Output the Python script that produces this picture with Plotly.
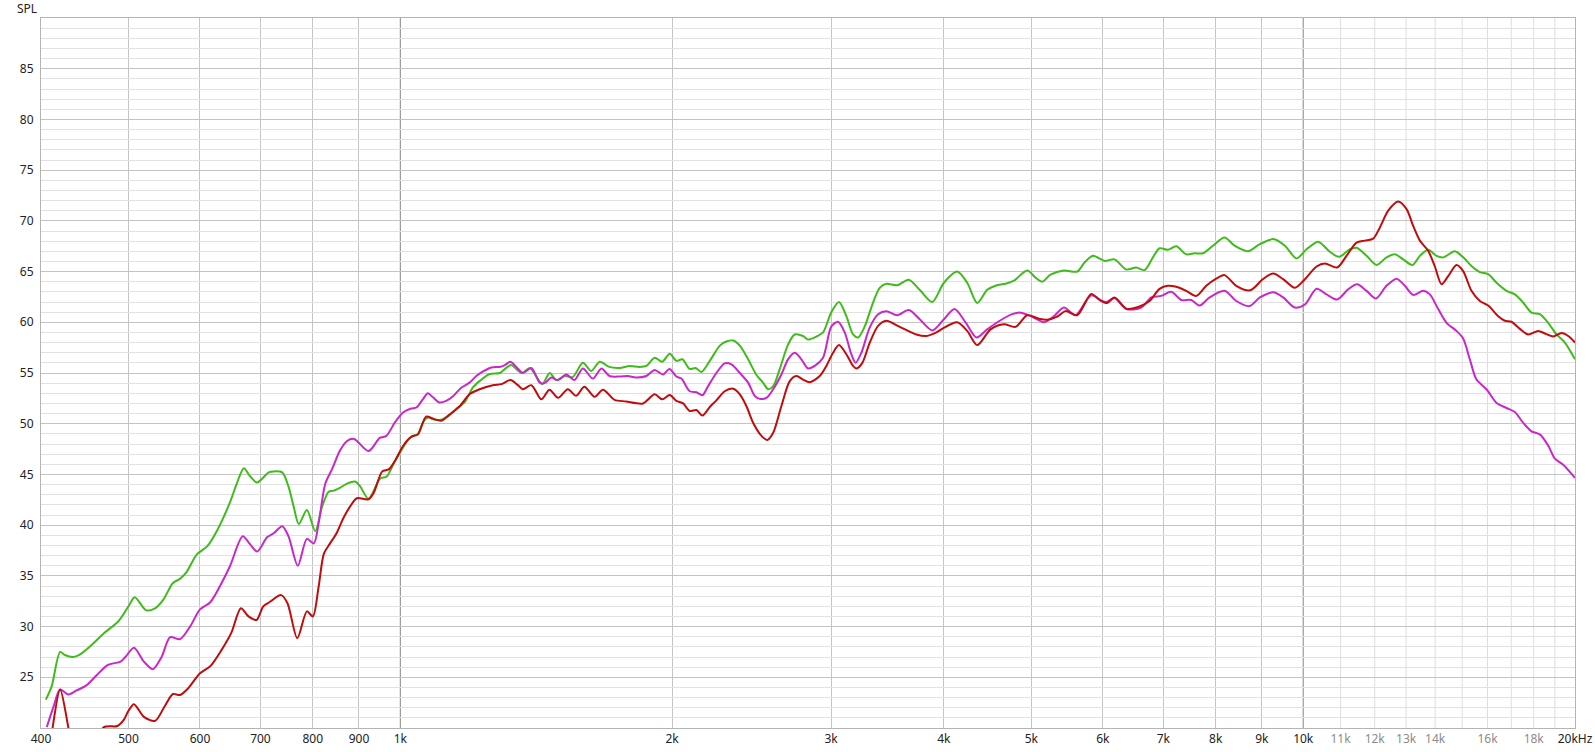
import math
import plotly.graph_objects as go

# ---------------- data ----------------
freq_green = [405, 411, 420, 425, 434, 441, 454, 469, 487, 500, 508, 523, 535, 546, 560, 570, 580, 595, 611, 627,
              648, 659, 671, 682, 694, 715, 724, 740, 752, 762, 772, 788, 805, 819, 833, 844, 858, 873, 891, 903,
              922, 950, 966, 985, 1000, 1020, 1033, 1046, 1059, 1073, 1091, 1110, 1134, 1158, 1178, 1204, 1224,
              1256, 1289, 1310, 1327, 1344, 1364, 1391, 1414, 1436, 1464, 1488, 1520, 1552, 1593, 1627, 1663,
              1704, 1750, 1795, 1841, 1873, 1913, 1950, 1988, 2022, 2053, 2092, 2124, 2155, 2202, 2259, 2297,
              2337, 2377, 2428, 2480, 2522, 2555, 2588, 2632, 2688, 2734, 2793, 2829, 2890, 2939, 3002, 3061,
              3119, 3173, 3214, 3269, 3339, 3396, 3454, 3551, 3658, 3769, 3883, 4000, 4138, 4245, 4355, 4467,
              4563, 4701, 4782, 4947, 5054, 5140, 5250, 5432, 5620, 5726, 5849, 6026, 6181, 6368, 6532, 6673,
              6816, 6933, 7082, 7234, 7421, 7581, 7743, 7943, 8183, 8394, 8685, 8953, 9264, 9543, 9831, 10085,
              10390, 10704, 10961, 11264, 11457, 11753, 12057, 12368, 12634, 12906, 13216, 13465, 13754, 14050,
              14291, 14722, 15037, 15360, 15690, 16027, 16373, 16796, 17154, 17522, 17900, 18285, 18677, 19079,
              19490, 20000]
spl_green = [22.8, 24.1, 27.5, 27.2, 27.0, 27.2, 28.1, 29.3, 30.5, 32.0, 32.9, 31.6, 31.8, 32.6, 34.3, 34.7, 35.4,
             37.1, 37.9, 39.5, 42.3, 44.1, 45.6, 44.8, 44.2, 45.2, 45.3, 45.2, 43.8, 41.8, 40.1, 41.5, 39.4, 41.8,
             43.3, 43.4, 43.7, 44.1, 44.3, 43.8, 42.6, 44.6, 44.8, 46.2, 47.2, 48.4, 48.8, 49.0, 50.1, 50.6, 50.4,
             50.4, 50.9, 51.6, 52.1, 53.6, 54.2, 54.9, 55.0, 55.5, 55.8, 55.4, 55.0, 55.5, 54.7, 53.9, 55.0, 54.3,
             54.7, 54.6, 56.0, 55.2, 56.1, 55.6, 55.5, 55.7, 55.6, 55.7, 56.5, 56.1, 56.9, 56.2, 56.35, 55.4, 55.5,
             55.1, 56.2, 57.7, 58.1, 58.2, 57.7, 56.35, 54.8, 54.05, 53.4, 53.7, 55.4, 57.8, 58.8, 58.65, 58.3,
             58.6, 59.0, 61.0, 62.0, 60.6, 58.8, 58.5, 59.6, 61.95, 63.4, 63.8, 63.65, 64.2, 63.1, 62.0, 63.9,
             65.0, 63.9, 61.9, 63.2, 63.6, 63.85, 64.1, 65.1, 64.4, 64.0, 64.7, 65.1, 65.0, 65.9, 66.55, 66.05,
             66.2, 65.2, 65.4, 65.15, 66.4, 67.3, 67.15, 67.5, 66.7, 66.8, 66.8, 67.55, 68.35, 67.55, 67.0, 67.7,
             68.2, 67.55, 66.3, 67.2, 67.95, 66.95, 66.45, 67.2, 67.35, 66.55, 65.65, 66.4, 66.7, 66.2, 65.65,
             66.55, 67.15, 66.55, 66.4, 67.0, 66.4, 65.55, 64.95, 64.75, 63.9, 63.1, 62.75, 61.95, 60.95, 60.8,
             59.95, 58.8, 58.0, 56.35]

freq_magenta = [406, 413, 420, 429, 438, 449, 461, 474, 490, 496, 507, 520, 532, 544, 556, 570, 585, 600, 616, 634,
                648, 669, 682, 694, 712, 724, 740, 752, 770, 788, 802, 812, 826, 840, 858, 873, 889, 922, 949, 965,
                986, 1007, 1028, 1042, 1059, 1073, 1087, 1105, 1124, 1144, 1168, 1193, 1214, 1235, 1261, 1288,
                1304, 1324, 1344, 1367, 1397, 1427, 1445, 1470, 1495, 1527, 1559, 1593, 1634, 1670, 1705, 1750,
                1786, 1824, 1873, 1913, 1954, 1987, 2022, 2048, 2092, 2128, 2161, 2192, 2239, 2287, 2327, 2377,
                2428, 2469, 2501, 2544, 2588, 2643, 2688, 2734, 2781, 2829, 2877, 2939, 3002, 3054, 3106, 3159,
                3194, 3241, 3311, 3382, 3454, 3551, 3658, 3761, 3883, 4000, 4110, 4227, 4348, 4467, 4622, 4762,
                4864, 5011, 5162, 5295, 5432, 5596, 5820, 5989, 6051, 6181, 6368, 6616, 6787, 6963, 7142, 7327,
                7516, 7678, 7876, 8183, 8430, 8722, 8953, 9264, 9503, 9790, 10043, 10346, 10613, 10905, 11215,
                11477, 11753, 12036, 12368, 12688, 12961, 13238, 13580, 13813, 14110, 14413, 14785, 15037, 15295,
                15557, 15959, 16373, 16796, 17154, 17522, 17900, 18285, 18677, 18998, 19407, 20000]
spl_magenta = [20.1, 22.1, 23.8, 23.3, 23.7, 24.2, 25.2, 26.2, 26.55, 27.0, 27.9, 26.55, 25.8, 27.0, 28.95, 28.75,
               30.0, 31.7, 32.4, 34.3, 36.0, 38.9, 38.1, 37.4, 38.8, 39.2, 39.9, 38.9, 36.0, 38.65, 38.2, 40.2,
               44.1, 45.5, 47.4, 48.3, 48.5, 47.3, 48.6, 48.8, 50.1, 51.1, 51.5, 51.6, 52.4, 53.0, 52.6, 52.1,
               52.25, 52.7, 53.55, 54.05, 54.7, 55.15, 55.55, 55.6, 55.75, 56.1, 55.6, 55.0, 55.5, 54.05, 54.0,
               54.55, 54.3, 54.85, 54.3, 55.45, 54.45, 55.45, 54.7, 54.65, 54.7, 54.55, 54.7, 55.3, 54.85, 55.4,
               54.65, 54.45, 53.2, 53.1, 52.8, 53.7, 55.0, 55.95, 55.85, 55.0, 54.05, 52.75, 52.45, 52.55, 53.4,
               54.85, 56.35, 57.0, 56.35, 55.45, 55.7, 56.5, 59.6, 60.05, 59.0, 56.85, 56.0, 57.0, 59.5, 60.8,
               61.1, 60.7, 61.2, 60.3, 59.2, 60.3, 61.3, 60.0, 58.5, 59.3, 60.2, 60.8, 60.95, 60.55, 60.0, 60.6,
               61.45, 60.7, 62.65, 62.1, 62.0, 62.4, 61.3, 61.45, 62.45, 62.6, 63.0, 62.2, 62.2, 61.65, 62.45,
               63.1, 62.1, 61.6, 62.45, 62.95, 62.45, 61.45, 61.75, 63.3, 62.75, 62.25, 63.25, 63.75, 63.1, 62.35,
               63.6, 64.3, 63.6, 62.7, 63.1, 62.75, 61.3, 59.95, 59.15, 58.4, 56.35, 54.35, 53.4, 52.05, 51.55,
               51.15, 50.1, 49.25, 48.95, 47.85, 46.55, 45.95, 44.65]

freq_red = [405, 412, 420, 429, 440, 455, 469, 486, 494, 500, 507, 520, 535, 548, 560, 570, 582, 600, 616, 634, 650,
            666, 679, 693, 705, 716, 738, 750, 769, 788, 800, 812, 823, 836, 850, 865, 880, 895, 922, 934, 955, 971,
            988, 1007, 1028, 1046, 1068, 1087, 1110, 1134, 1163, 1193, 1224, 1266, 1294, 1324, 1350, 1367, 1397,
            1433, 1463, 1495, 1533, 1566, 1599, 1641, 1677, 1727, 1778, 1857, 1913, 1950, 1988, 2022, 2057, 2092,
            2128, 2161, 2202, 2239, 2287, 2337, 2377, 2417, 2459, 2512, 2550, 2588, 2643, 2700, 2746, 2793, 2841,
            2914, 2964, 3015, 3061, 3119, 3173, 3200, 3249, 3311, 3382, 3454, 3565, 3729, 3826, 3924, 3990, 4138,
            4245, 4355, 4505, 4661, 4802, 4947, 5097, 5206, 5340, 5455, 5620, 5824, 5949, 6066, 6181, 6368, 6588,
            6758, 6933, 7082, 7234, 7421, 7613, 7810, 8011, 8183, 8430, 8736, 9022, 9264, 9503, 9790, 10043, 10346,
            10568, 10905, 11167, 11457, 11703, 11955, 12160, 12421, 12742, 13016, 13238, 13465, 13754, 13990,
            14230, 14474, 14785, 15037, 15360, 15690, 16027, 16442, 16724, 17008, 17374, 17748, 18207, 18519,
            18917, 19324, 19656, 20000]
spl_red = [14.0, 20.0, 23.8, 20.0, 15.0, 16.0, 20.05, 20.2, 20.8, 21.7, 22.35, 21.1, 20.7, 22.1, 23.35, 23.25, 23.9,
           25.4, 26.1, 27.7, 29.4, 31.8, 31.0, 30.65, 32.0, 32.4, 33.1, 32.3, 28.85, 31.5, 31.0, 33.95, 37.2, 38.2,
           39.2, 40.7, 41.85, 42.65, 42.55, 43.15, 45.3, 45.5, 46.45, 47.8, 48.7, 48.95, 50.7, 50.5, 50.3, 50.9,
           51.7, 52.9, 53.4, 53.8, 53.9, 54.3, 53.8, 53.4, 53.8, 52.4, 53.35, 52.55, 53.4, 52.75, 53.65, 52.65,
           53.35, 52.35, 52.2, 52.0, 52.9, 52.4, 52.83, 52.25, 52.0, 51.25, 51.35, 50.8, 51.65, 52.3, 53.2, 53.45,
           52.9, 51.75, 50.1, 48.8, 48.4, 49.1, 51.75, 54.2, 54.7, 54.35, 54.1, 54.7, 55.7, 57.0, 57.75, 56.85,
           55.7, 55.45, 56.0, 58.0, 59.65, 60.15, 59.6, 58.8, 58.65, 59.0, 59.4, 60.0, 59.15, 57.75, 59.3, 59.8,
           59.55, 60.7, 60.35, 60.25, 60.55, 61.1, 60.7, 62.8, 62.2, 61.9, 62.45, 61.35, 61.55, 62.1, 63.3, 63.6,
           63.5, 63.1, 62.6, 63.6, 64.3, 64.65, 63.6, 63.15, 64.25, 64.8, 64.25, 63.4, 64.25, 65.5, 65.8, 65.4,
           66.55, 67.85, 68.05, 68.25, 69.35, 71.0, 71.9, 71.15, 69.5, 68.05, 67.05, 65.5, 63.75, 64.55, 65.65,
           65.05, 63.1, 62.1, 61.65, 60.6, 60.15, 60.05, 59.35, 58.8, 59.15, 58.9, 58.6, 58.95, 58.65, 58.0]

x_tick_vals = [400, 500, 600, 700, 800, 900, 1000, 2000, 3000, 4000, 5000, 6000, 7000, 8000, 9000, 10000,
               11000, 12000, 13000, 14000, 16000, 18000, 20000]
x_tick_text = ["400", "500", "600", "700", "800", "900", "1k", "2k", "3k", "4k", "5k", "6k", "7k", "8k", "9k",
               "10k", "11k", "12k", "13k", "14k", "16k", "18k", "20kHz"]
x_tick_dim = ["11k", "12k", "13k", "14k", "16k", "18k"]
grid_medium = [500, 600, 700, 800, 900, 2000, 3000, 4000, 5000, 6000, 7000, 8000, 9000]
grid_dark = [1000, 10000]
grid_light = [11000, 12000, 13000, 14000, 15000, 16000, 17000, 18000, 19000]
y_tick_vals = [25, 30, 35, 40, 45, 50, 55, 60, 65, 70, 75, 80, 85]

# ---------------- styling ----------------
FONT = "Noto Sans"
C_GREEN = "#3fbc1b"
C_MAGENTA = "#c828c8"
C_RED = "#c00c0c"

fig = go.Figure()
for fx, fy, col in [(freq_green, spl_green, C_GREEN),
                    (freq_magenta, spl_magenta, C_MAGENTA),
                    (freq_red, spl_red, C_RED)]:
    fig.add_trace(go.Scatter(x=fx, y=fy, mode="lines",
                             line=dict(color=col, width=2, shape="spline", smoothing=0.8),
                             showlegend=False, hoverinfo="skip"))

# vertical grid lines of the other two shades (shapes on a log axis take data values)
for f in grid_light:
    fig.add_shape(type="line", xref="x", yref="paper", x0=f, x1=f, y0=0, y1=1,
                  line=dict(color="#dedede", width=1), layer="below")
for f in grid_dark:
    fig.add_shape(type="line", xref="x", yref="paper", x0=f, x1=f, y0=0, y1=1,
                  line=dict(color="#858585", width=1), layer="between")

ticktext = [f'<span style="color:#8c8c8c">{t}</span>' if t in x_tick_dim else t for t in x_tick_text]
xr = [math.log10(400), math.log10(20000)]

fig.update_layout(
    width=1595, height=752,
    margin=dict(l=41, r=20, t=18, b=24, autoexpand=False),
    paper_bgcolor="white", plot_bgcolor="white",
    font=dict(family=FONT, size=12, color="#222222"),
    hovermode=False,
    xaxis=dict(type="log", range=xr, tickmode="array", tickvals=x_tick_vals, ticktext=ticktext,
               showgrid=False, ticks="", showline=True, mirror=True, linecolor="#b4b4b4", linewidth=1,
               zeroline=False, automargin=False, tickfont=dict(family=FONT, size=12, color="#222222"),
               minor=dict(tickmode="array", tickvals=grid_medium, showgrid=True, gridcolor="#c4c4c4",
                          gridwidth=1, ticks="")),
    yaxis=dict(range=[20, 90], tickmode="array", tickvals=y_tick_vals, showgrid=True, gridcolor="#c4c4c4",
               gridwidth=1, ticks="", showline=True, mirror=True, linecolor="#b4b4b4", linewidth=1,
               zeroline=False, ticklabelstandoff=4, automargin=False,
               tickfont=dict(family=FONT, size=12, color="#222222"),
               minor=dict(dtick=1, showgrid=True, gridcolor="#e2e2e2", gridwidth=1, ticks="")),
    annotations=[dict(text="SPL", xref="paper", yref="paper", x=0, y=1, xanchor="right", yanchor="bottom",
                      xshift=-2, yshift=-1, showarrow=False, font=dict(family=FONT, size=12, color="#222222"))],
)

fig.write_html("out.html", config={"displayModeBar": False},
               post_script="document.body.style.margin='0px';")
